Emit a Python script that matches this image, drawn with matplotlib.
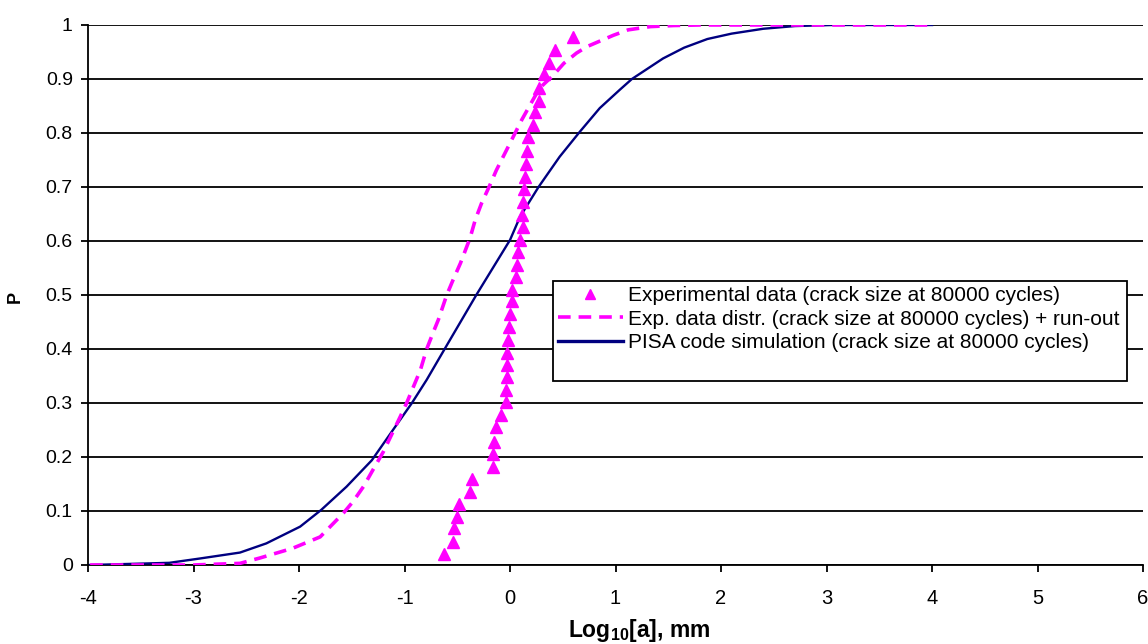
import matplotlib
matplotlib.use("Agg")
import matplotlib.pyplot as plt
from matplotlib.patches import Rectangle
from matplotlib.lines import Line2D

plt.rcParams['font.family'] = ['Liberation Sans', 'DejaVu Sans']
plt.rcParams['axes.unicode_minus'] = False
plt.rcParams['mathtext.fontset'] = 'custom'
plt.rcParams['mathtext.rm'] = 'Liberation Sans'
plt.rcParams['mathtext.bf'] = 'Liberation Sans:bold'

# Experimental data (triangles)
exp_x = [-0.63, -0.54, -0.53, -0.50, -0.48, -0.38, -0.36, -0.16, -0.16, -0.15,
         -0.13, -0.09, -0.04, -0.04, -0.03, -0.026, -0.026, -0.016, -0.006, 0.0,
         0.016, 0.02, 0.06, 0.07, 0.08, 0.09, 0.12, 0.11, 0.12, 0.13,
         0.14, 0.15, 0.16, 0.17, 0.22, 0.24, 0.27, 0.27, 0.32, 0.37,
         0.43, 0.60]
exp_p = [0.020, 0.043, 0.068, 0.089, 0.113, 0.136, 0.159, 0.182, 0.206, 0.228,
         0.255, 0.278, 0.302, 0.324, 0.348, 0.370, 0.393, 0.417, 0.441, 0.465,
         0.488, 0.509, 0.534, 0.556, 0.580, 0.602, 0.625, 0.649, 0.673, 0.696,
         0.719, 0.743, 0.767, 0.792, 0.815, 0.838, 0.860, 0.883, 0.909, 0.930,
         0.954, 0.978]

# Exp. data distribution + run-out (dashed)
dist_x = [-3.98, -3.0, -2.56, -2.37, -2.06, -1.80, -1.58, -1.49, -1.39, -1.30,
          -1.20, -1.04, -0.98, -0.85, -0.79, -0.73, -0.68, -0.60, -0.54, -0.47,
          -0.38, -0.33, -0.27, -0.19, -0.13, -0.05, 0.03, 0.11, 0.19, 0.28,
          0.41, 0.51, 0.63, 0.73, 0.98, 1.12, 1.33, 1.55, 1.8, 4.0]
dist_p = [0.0, 0.0, 0.003, 0.013, 0.031, 0.052, 0.096, 0.117, 0.145, 0.176,
          0.210, 0.275, 0.300, 0.361, 0.400, 0.430, 0.454, 0.500, 0.528, 0.559,
          0.605, 0.639, 0.670, 0.704, 0.731, 0.762, 0.793, 0.824, 0.852, 0.883,
          0.907, 0.929, 0.948, 0.960, 0.981, 0.991, 0.997, 0.999, 1.0, 1.0]

# PISA code simulation (solid)
sim_x = [-3.98, -3.6, -3.23, -2.94, -2.56, -2.31, -1.99, -1.79, -1.55, -1.31,
         -1.11, -0.93, -0.79, -0.62, -0.32, 0.0, 0.095, 0.27, 0.47, 0.66,
         0.85, 1.04, 1.155, 1.45, 1.65, 1.87, 2.10, 2.40, 2.70, 3.06, 4.0]
sim_p = [0.0, 0.002, 0.004, 0.012, 0.023, 0.040, 0.071, 0.102, 0.145, 0.194,
         0.250, 0.300, 0.343, 0.400, 0.500, 0.602, 0.645, 0.700, 0.756, 0.802,
         0.846, 0.880, 0.900, 0.938, 0.958, 0.974, 0.984, 0.993, 0.998, 1.0, 1.0]

labels = ["Experimental data (crack size at 80000 cycles)",
          "Exp. data distr. (crack size at 80000 cycles) + run-out",
          "PISA code simulation (crack size at 80000 cycles)"]

fig = plt.figure(figsize=(11.48, 6.44), dpi=100)
ax = fig.add_axes([0.0767, 0.1227, 0.9190, 0.8385])

ax.set_xlim(-4, 6)
ax.set_ylim(0, 1)
ax.set_xticks(range(-4, 7))
ax.set_yticks([i / 10 for i in range(11)])
ax.set_yticklabels(['0', '0.1', '0.2', '0.3', '0.4', '0.5', '0.6', '0.7', '0.8', '0.9', '1'])

ax.yaxis.grid(True, color='black', linewidth=1.3)
ax.set_axisbelow(True)
for s in ['top', 'right']:
    ax.spines[s].set_visible(False)
for s in ['left', 'bottom']:
    ax.spines[s].set_linewidth(1.3)
ax.tick_params(axis='x', direction='out', length=5, width=1.3, labelsize=14.5, pad=12)
ax.tick_params(axis='y', direction='out', length=5, width=1.3, labelsize=14, pad=6)

ax.plot(sim_x, sim_p, color='#000080', linewidth=1.7, zorder=3)
ax.plot(dist_x, dist_p, color='#FF00FF', linewidth=2.6, dashes=(3.5, 2.2), zorder=3)
ax.plot(exp_x, exp_p, linestyle='none', marker='^', color='#FF00FF',
        markersize=8, zorder=4, clip_on=False)

ax.set_xlabel(r'Log$_{\mathbf{10}}$[a], mm', fontsize=16.5, fontweight='bold')
ax.xaxis.set_label_coords((639 - 88) / 1055, (565 - 631) / 540)
ax.xaxis.label.set_va('center')
ax.set_ylabel('P', fontsize=13, fontweight='bold')
ax.yaxis.set_label_coords((15 - 88) / 1055, (565 - 297) / 540)
ax.yaxis.label.set_va('center')

# legend with frame
rect = Rectangle((0.441, 0.341), 0.544, 0.185, transform=ax.transAxes,
                 facecolor='white', edgecolor='black', linewidth=1.3, zorder=5)
ax.add_patch(rect)
handles = [Line2D([], [], linestyle='none', marker='^', color='#FF00FF', markersize=7),
           Line2D([], [], color='#FF00FF', linewidth=2.6, dashes=(3.5, 2.2)),
           Line2D([], [], color='#000080', linewidth=2.4)]
leg = ax.legend(handles, labels, loc='upper left',
                bbox_to_anchor=((558 - 88) / 1055, (565 - 286) / 540),
                frameon=False, fontsize=15, handlelength=3.1, handletextpad=0.25,
                labelspacing=0.22, borderpad=0.0, borderaxespad=0.0)
leg.set_zorder(6)

fig.savefig('out.png', dpi=100)
